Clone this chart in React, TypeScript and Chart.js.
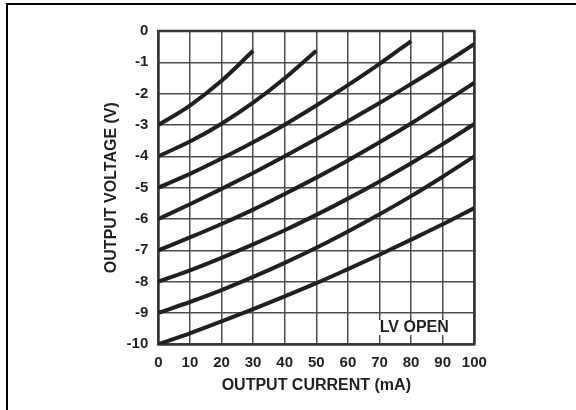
import React, { useEffect, useRef } from "react";
import { Chart, registerables } from "chart.js";

Chart.register(...registerables);

// Output current (mA) sample positions
const currentMA = [0, 10, 20, 30, 40, 50, 60, 70, 80, 90, 100];

// Output voltage curves (V), one per starting voltage
const curveFromMinus3 = [-3, -2.38, -1.59, -0.63];
const curveFromMinus4 = [-4, -3.53, -2.96, -2.29, -1.51, -0.63];
const curveFromMinus5 = [-5, -4.56, -4.07, -3.55, -2.99, -2.38, -1.73, -1.05, -0.32];
const curveFromMinus6 = [-6, -5.53, -5.04, -4.53, -4.0, -3.45, -2.88, -2.3, -1.69, -1.07, -0.42];
const curveFromMinus7 = [-7, -6.59, -6.16, -5.7, -5.2, -4.68, -4.13, -3.55, -2.95, -2.31, -1.65];
const curveFromMinus8 = [-8, -7.64, -7.24, -6.81, -6.36, -5.87, -5.35, -4.8, -4.22, -3.61, -2.97];
const curveFromMinus9 = [-9, -8.65, -8.27, -7.85, -7.4, -6.92, -6.4, -5.85, -5.27, -4.65, -4.0];
const curveFromMinus10 = [-10, -9.65, -9.27, -8.88, -8.47, -8.05, -7.6, -7.14, -6.66, -6.17, -5.65];

const allCurves = [
  curveFromMinus3,
  curveFromMinus4,
  curveFromMinus5,
  curveFromMinus6,
  curveFromMinus7,
  curveFromMinus8,
  curveFromMinus9,
  curveFromMinus10,
];

const yTickLabels = ["0", "-1", "-2", "-3", "-4", "-5", "-6", "-7", "-8", "-9", "-10"];
const xTickLabels = ["0", "10", "20", "30", "40", "50", "60", "70", "80", "90", "100"];

const xTitle = "OUTPUT CURRENT (mA)";
const yTitle = "OUTPUT VOLTAGE (V)";
const noteText = "LV OPEN";
const noteAt = { x: 81, y: -9.45 };

const FONT = "'Liberation Sans', Arial, Helvetica, sans-serif";
const INK = "#231f20";
const GRID = "#4d4d4f";

const framePlugin = {
  id: "framePlugin",
  beforeDraw(chart: any) {
    const ctx = chart.ctx;
    ctx.save();
    ctx.fillStyle = "#ffffff";
    ctx.fillRect(0, 0, chart.width, chart.height);
    ctx.fillStyle = "#000000";
    ctx.fillRect(6, 3, 2, chart.height - 3);
    ctx.fillRect(6, 3, chart.width - 6, 2);
    ctx.restore();
  },
  beforeDatasetsDraw(chart: any) {
    const ctx = chart.ctx;
    const a = chart.chartArea;
    ctx.save();
    ctx.strokeStyle = "#333335";
    ctx.lineWidth = 2.5;
    ctx.strokeRect(a.left, a.top, a.right - a.left, a.bottom - a.top);
    const xs = chart.scales.x;
    const ys = chart.scales.y;
    const px = xs.getPixelForValue(noteAt.x);
    const py = ys.getPixelForValue(noteAt.y);
    ctx.font = "bold 16px " + FONT;
    const w = ctx.measureText(noteText).width;
    ctx.fillStyle = "#ffffff";
    ctx.fillRect(px - w / 2 - 1, py - 7, w + 2, 15);
    ctx.fillStyle = INK;
    ctx.textAlign = "center";
    ctx.textBaseline = "middle";
    ctx.fillText(noteText, px, py + 1);
    ctx.restore();
  },
};

export default function App() {
  const canvasRef = useRef<HTMLCanvasElement | null>(null);

  useEffect(() => {
    const canvas = canvasRef.current;
    if (!canvas) return;
    const datasets = allCurves.map((curve) => ({
      data: curve.map((v, i) => ({ x: currentMA[i], y: v })),
      borderColor: "#231f20",
      borderWidth: 4,
      pointRadius: 0,
      fill: false,
      cubicInterpolationMode: "monotone" as const,
    }));
    const chart = new Chart(canvas, {
      type: "line",
      data: { datasets },
      plugins: [framePlugin],
      options: {
        animation: false,
        responsive: false,
        devicePixelRatio: 1,
        layout: { padding: { left: 0, top: 31, right: 101.7, bottom: 0 } },
        plugins: { legend: { display: false }, tooltip: { enabled: false } },
        scales: {
          x: {
            type: "linear",
            min: 0,
            max: 100,
            afterFit: (s: any) => {
              s.height = 65.7;
            },
            ticks: {
              stepSize: 10,
              padding: 10,
              color: INK,
              font: { family: FONT, size: 15, weight: "bold" },
              callback: (v: any) => xTickLabels[Math.round(Number(v) / 10)],
              maxRotation: 0,
              autoSkip: false,
            },
            grid: { color: GRID, lineWidth: 1.5, drawTicks: false },
            border: { display: false },
            title: {
              display: true,
              text: xTitle,
              color: INK,
              font: { family: FONT, size: 16, weight: "bold" },
              padding: { top: 0, bottom: 15 },
            },
          },
          y: {
            type: "linear",
            min: -10,
            max: 0,
            afterFit: (s: any) => {
              s.width = 158.3;
            },
            ticks: {
              stepSize: 1,
              padding: 10,
              color: INK,
              font: { family: FONT, size: 15, weight: "bold" },
              callback: (v: any) => yTickLabels[Math.round(-Number(v))],
              autoSkip: false,
            },
            grid: { color: GRID, lineWidth: 1.5, drawTicks: false },
            border: { display: false },
            title: {
              display: true,
              text: yTitle,
              color: INK,
              font: { family: FONT, size: 16, weight: "bold" },
              padding: { top: 102, bottom: 0 },
            },
          },
        },
      },
    });
    return () => chart.destroy();
  }, []);

  return (
    <div style={{ position: "fixed", left: 0, top: 0, width: 576, height: 410, background: "#fff" }}>
      <canvas ref={canvasRef} width={576} height={410} style={{ display: "block", width: 576, height: 410 }} />
    </div>
  );
}
